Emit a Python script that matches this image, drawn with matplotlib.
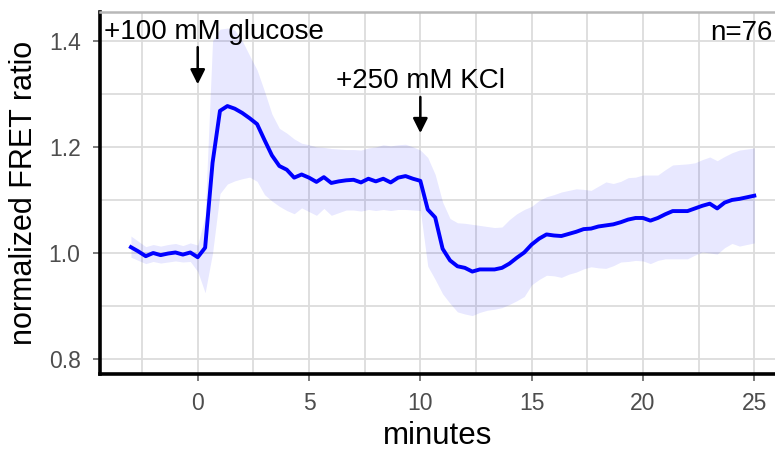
import numpy as np
import matplotlib
matplotlib.use("Agg")
import matplotlib.pyplot as plt
from matplotlib.ticker import MultipleLocator

plt.rcParams['font.family'] = ['Liberation Sans', 'DejaVu Sans']

# sampled every 20 s, from -3 to 25 min
minutes = np.arange(-3, 25 + 1e-9, 1 / 3)

fret_mean = [
    1.011, 1.003, 0.994, 1.000, 0.996, 0.999, 1.001, 0.997, 1.001, 0.992,
    1.010, 1.170, 1.268, 1.277, 1.272, 1.264, 1.254, 1.243, 1.213, 1.184,
    1.164, 1.157, 1.142, 1.148, 1.142, 1.134, 1.143, 1.132, 1.135, 1.137,
    1.138, 1.133, 1.140, 1.135, 1.140, 1.133, 1.142, 1.145, 1.140, 1.136,
    1.082, 1.067, 1.008, 0.986, 0.975, 0.972, 0.965, 0.969, 0.969, 0.969,
    0.972, 0.980, 0.991, 1.001, 1.016, 1.027, 1.035, 1.033, 1.032, 1.036,
    1.040, 1.045, 1.046, 1.050, 1.052, 1.054, 1.058, 1.063, 1.066, 1.066,
    1.061, 1.066, 1.073, 1.079, 1.079, 1.079, 1.084, 1.089, 1.093, 1.084,
    1.095, 1.100, 1.102, 1.105, 1.108,
]
fret_lower = [
    0.992, 0.986, 0.980, 0.984, 0.981, 0.983, 0.985, 0.983, 0.984, 0.965,
    0.925, 1.000, 1.112, 1.130, 1.136, 1.140, 1.143, 1.135, 1.110, 1.098,
    1.088, 1.080, 1.074, 1.085, 1.078, 1.071, 1.084, 1.071, 1.076, 1.081,
    1.081, 1.079, 1.082, 1.080, 1.082, 1.080, 1.082, 1.082, 1.081, 1.080,
    0.975, 0.950, 0.923, 0.905, 0.889, 0.885, 0.882, 0.888, 0.892, 0.894,
    0.897, 0.903, 0.910, 0.918, 0.940, 0.950, 0.958, 0.957, 0.954, 0.960,
    0.964, 0.970, 0.974, 0.972, 0.971, 0.976, 0.983, 0.984, 0.986, 0.985,
    0.980, 0.986, 0.989, 0.989, 0.989, 0.989, 0.996, 1.002, 1.000, 0.998,
    1.010, 1.018, 1.013, 1.016, 1.019,
]
fret_upper = [
    1.032, 1.022, 1.012, 1.016, 1.013, 1.016, 1.018, 1.014, 1.019, 1.015,
    1.070, 1.400, 1.422, 1.424, 1.420, 1.400, 1.372, 1.345, 1.305, 1.262,
    1.235, 1.226, 1.215, 1.207, 1.204, 1.200, 1.199, 1.197, 1.196, 1.195,
    1.195, 1.194, 1.198, 1.200, 1.204, 1.202, 1.204, 1.205, 1.200, 1.194,
    1.180, 1.148, 1.096, 1.065, 1.057, 1.056, 1.054, 1.052, 1.050, 1.048,
    1.049, 1.063, 1.074, 1.082, 1.088, 1.099, 1.106, 1.110, 1.115, 1.118,
    1.121, 1.120, 1.118, 1.126, 1.134, 1.131, 1.135, 1.142, 1.143, 1.147,
    1.147, 1.147, 1.157, 1.166, 1.167, 1.168, 1.170, 1.176, 1.181, 1.174,
    1.182, 1.189, 1.194, 1.196, 1.198,
]

x_ticks = [0, 5, 10, 15, 20, 25]
y_ticks = [0.8, 1.0, 1.2, 1.4]
treatments = ["+100 mM glucose", "+250 mM KCl"]
treatment_times = [0, 10]
n_cells = 76

fig = plt.figure(figsize=(7.75, 4.5), dpi=100)
ax = fig.add_axes([0.129, 0.169, 0.871, 0.804])

grid_col = '#dcdcdc'
ax.set_axisbelow(True)
ax.grid(True, which='major', color=grid_col, lw=1.3)
ax.grid(True, which='minor', color=grid_col, lw=1.3)
ax.xaxis.set_minor_locator(MultipleLocator(2.5))
ax.yaxis.set_minor_locator(MultipleLocator(0.1))
ax.tick_params(which='minor', length=0)

ax.fill_between(minutes, fret_lower, fret_upper, color='blue', alpha=0.09, lw=0)
ax.plot(minutes, fret_mean, color='blue', lw=2.8)

ax.set_xlim(-4.39, 25.93)
ax.set_ylim(0.772, 1.454)
ax.set_xticks(x_ticks)
ax.set_yticks(y_ticks)
ax.set_yticklabels([f"{v:.1f}" for v in y_ticks])
ax.tick_params(which='major', length=5, width=1.2, color='#666666',
               labelcolor='#4d4d4d', labelsize=16.5)
ax.tick_params(axis='y', pad=9)
ax.tick_params(axis='x', pad=8)

for side in ['left', 'bottom']:
    ax.spines[side].set_color('black')
    ax.spines[side].set_linewidth(2.6)
ax.spines['top'].set_color('#b8b8b8')
ax.spines['top'].set_linewidth(1.8)
ax.spines['right'].set_visible(False)

ax.set_xlabel('minutes', fontsize=22.5, labelpad=4)
ax.set_ylabel('normalized FRET ratio', fontsize=22, labelpad=7)

# treatment annotations
arrow_style = dict(arrowstyle='-|>', color='black', lw=1.8,
                   mutation_scale=22, shrinkA=0, shrinkB=0)
ax.text(-4.22, 1.403, treatments[0], fontsize=20, ha='left', va='baseline')
ax.annotate('', xy=(treatment_times[0], 1.318), xytext=(treatment_times[0], 1.388),
            arrowprops=arrow_style)
ax.text(treatment_times[1], 1.311, treatments[1], fontsize=20, ha='center', va='baseline')
ax.annotate('', xy=(treatment_times[1], 1.226), xytext=(treatment_times[1], 1.294),
            arrowprops=arrow_style)
ax.text(25.82, 1.401, f"n={n_cells}", fontsize=20, ha='right', va='baseline')

fig.savefig('out.png', dpi=100)
